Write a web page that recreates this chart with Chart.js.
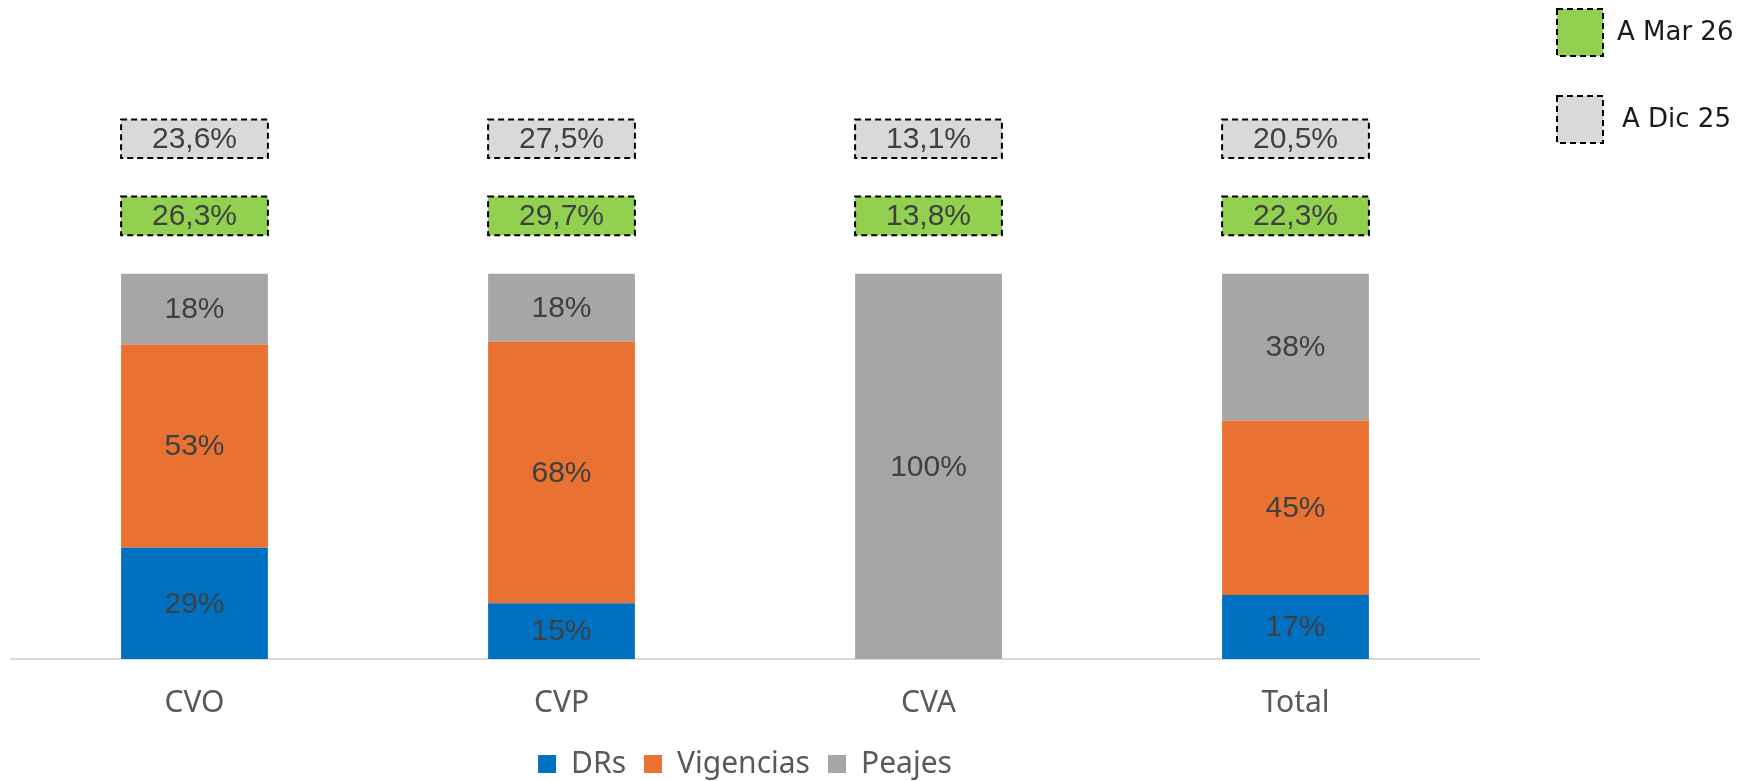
<!DOCTYPE html>
<html>
<head>
<meta charset="utf-8">
<script src="https://cdn.jsdelivr.net/npm/chart.js@4.4.1/dist/chart.umd.min.js"></script>
<style>
  html, body { margin: 0; padding: 0; background: #fff; overflow: hidden; }
</style>
</head>
<body>
<canvas id="chart" width="1747" height="781"></canvas>
<script>
// Stacked share by concept, plus Mar 26 / Dic 25 boxes above each bar
const categories = ['CVO', 'CVP', 'CVA', 'Total'];
const drs = [28.9, 14.5, 0, 16.6];
const vigencias = [52.7, 67.8, 0, 45.3];
const peajes = [18.4, 17.7, 100, 38.1];
const mar26 = [26.3, 29.7, 13.8, 22.3];
const dic25 = [23.6, 27.5, 13.1, 20.5];

const LABEL_COLOR = '#404040';
const TEXT_FONT = '"Noto Sans", sans-serif';

// boxes sit in fixed bands above the 100% stack
function band(lo, hi) { return categories.map(() => [lo, hi]); }

const labelPlugin = {
    id: 'barLabels',
    afterDatasetsDraw(chart) {
        const ctx = chart.ctx;
        ctx.save();
        ctx.textAlign = 'center';
        ctx.textBaseline = 'middle';
        chart.data.datasets.forEach((ds, i) => {
            const meta = chart.getDatasetMeta(i);
            meta.data.forEach((bar, j) => {
                let text;
                if (ds.boxValues) {
                    const top = Math.min(bar.y, bar.base);
                    const h = Math.abs(bar.base - bar.y);
                    ctx.setLineDash([6, 4]);
                    ctx.lineWidth = 2;
                    ctx.strokeStyle = '#000';
                    ctx.strokeRect(bar.x - bar.width / 2, top, bar.width, h);
                    ctx.setLineDash([]);
                    text = ds.boxValues[j].toFixed(1).replace('.', ',') + '%';
                } else {
                    const v = ds.data[j];
                    if (!v) return;
                    text = Math.round(v) + '%';
                }
                const c = bar.getCenterPoint();
                ctx.fillStyle = LABEL_COLOR;
                ctx.font = '30px "Liberation Sans", Arial, sans-serif';
                ctx.fillText(text, c.x, c.y + 1);
            });
        });
        ctx.restore();
    }
};

// legend for the two dashed boxes, top right
const boxLegendPlugin = {
    id: 'boxLegend',
    afterDraw(chart) {
        const ctx = chart.ctx;
        const items = chart.data.datasets.filter(ds => ds.boxValues);
        ctx.save();
        items.forEach((ds, k) => {
            const x = 1557, y = 9 + k * 87;
            ctx.fillStyle = ds.backgroundColor;
            ctx.fillRect(x, y, 46, 47);
            ctx.setLineDash([6, 4]);
            ctx.lineWidth = 2;
            ctx.strokeStyle = '#000';
            ctx.strokeRect(x, y, 46, 47);
            ctx.setLineDash([]);
            ctx.fillStyle = '#1a1a1a';
            ctx.font = '26px "DejaVu Sans", sans-serif';
            ctx.textAlign = 'left';
            ctx.textBaseline = 'middle';
            ctx.fillText(ds.label, 1617 + k * 5, y + 24);
        });
        ctx.restore();
    }
};

new Chart(document.getElementById('chart'), {
    type: 'bar',
    data: {
        labels: categories,
        datasets: [
            { label: 'DRs', data: drs, backgroundColor: '#0070c0' },
            { label: 'Vigencias', data: vigencias, backgroundColor: '#e97132' },
            { label: 'Peajes', data: peajes, backgroundColor: '#a6a6a6' },
            {
                label: 'A Mar 26', data: band(110, 120), boxValues: mar26,
                backgroundColor: '#92d050', yAxisID: 'y2', grouped: false
            },
            {
                label: 'A Dic 25', data: band(130, 140), boxValues: dic25,
                backgroundColor: '#d9d9d9', yAxisID: 'y2', grouped: false
            }
        ]
    },
    options: {
        responsive: false,
        animation: false,
        layout: { padding: { top: 81, left: 11, right: 268, bottom: -8 } },
        datasets: {
            bar: { barPercentage: 0.4, categoryPercentage: 1.0, borderWidth: 0 }
        },
        scales: {
            x: {
                stacked: true,
                grid: { display: false, drawTicks: false },
                border: { display: true, color: '#d9d9d9', width: 2 },
                ticks: {
                    color: '#595959',
                    padding: 26,
                    font: { family: TEXT_FONT, size: 30 }
                },
                afterFit(axis) { axis.height = 72; }
            },
            y: { stacked: true, min: 0, max: 150, display: false },
            y2: { stacked: false, min: 0, max: 150, display: false }
        },
        plugins: {
            legend: {
                position: 'bottom',
                labels: {
                    boxWidth: 18,
                    boxHeight: 18,
                    padding: 18,
                    color: '#595959',
                    font: { family: TEXT_FONT, size: 30 },
                    filter: item => item.datasetIndex < 3
                }
            },
            tooltip: { enabled: false }
        }
    },
    plugins: [labelPlugin, boxLegendPlugin]
});
</script>
</body>
</html>
